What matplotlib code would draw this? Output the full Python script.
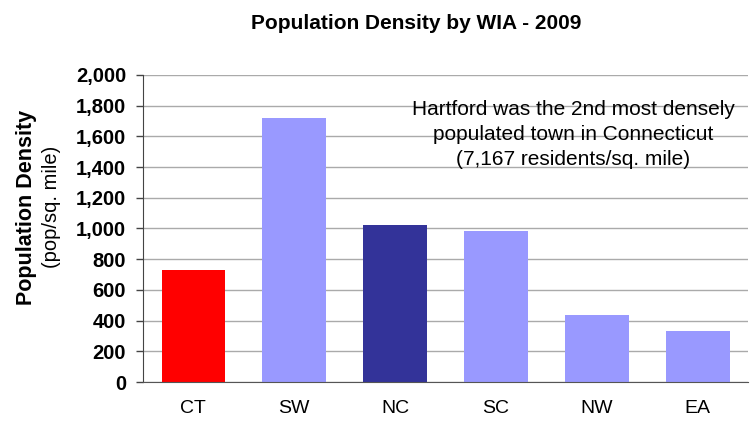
import matplotlib
matplotlib.use("Agg")
import matplotlib.pyplot as plt
from matplotlib.patches import Rectangle
from matplotlib.ticker import FuncFormatter

# data
regions = ["CT", "SW", "NC", "SC", "NW", "EA"]
density = [727, 1722, 1023, 984, 438, 333]
bar_colors = ["#FF0000", "#9999FF", "#333399", "#9999FF", "#9999FF", "#9999FF"]
y_ticks = list(range(0, 2001, 200))
note = "Hartford was the 2nd most densely\npopulated town in Connecticut\n(7,167 residents/sq. mile)"

plt.rcParams["font.family"] = ["Liberation Sans", "DejaVu Sans"]

fig = plt.figure(figsize=(7.52, 4.21), dpi=100)
ax = fig.add_axes([0.190, 0.0926, 0.805, 0.7294])

x = range(len(regions))
ax.bar(x, density, width=0.63, color=bar_colors, zorder=3)

ax.set_xlim(-0.5, len(regions) - 0.5)
ax.set_ylim(0, 2000)
ax.set_yticks(y_ticks)
ax.yaxis.set_major_formatter(FuncFormatter(lambda v, p: f"{int(v):,}"))
ax.grid(axis="y", color="#aaaaaa", linewidth=1.0, zorder=0)

ax.set_xticks(list(x))
ax.set_xticklabels(regions, fontsize=14)
ax.tick_params(axis="x", length=0, pad=13)
ax.tick_params(axis="y", length=5, width=1, color="#444444", labelsize=14.5, pad=7)
for lbl in ax.get_yticklabels():
    lbl.set_fontweight("bold")

for side in ["top", "right"]:
    ax.spines[side].set_visible(False)
ax.spines["left"].set_color("#444444")
ax.spines["bottom"].set_color("#555555")
ax.spines["left"].set_zorder(4)
ax.spines["bottom"].set_zorder(4)

# white box behind the note hides the gridlines
ax.add_patch(Rectangle((0.433, 0.66), 0.6, 0.29, transform=ax.transAxes,
                       facecolor="white", edgecolor="none", zorder=1, clip_on=False))
ax.text(0.711, 0.805, note, transform=ax.transAxes, ha="center", va="center",
        fontsize=15, linespacing=1.4, zorder=5)

fig.text(0.553, 0.945, "Population Density by WIA - 2009", ha="center", va="center",
         fontsize=15, fontweight="bold")
fig.text(0.035, 0.508, "Population Density", rotation=90, ha="center", va="center",
         fontsize=15.5, fontweight="bold")
fig.text(0.068, 0.508, "(pop/sq. mile)", rotation=90, ha="center", va="center",
         fontsize=14.5)

fig.savefig("out.png", dpi=100)
